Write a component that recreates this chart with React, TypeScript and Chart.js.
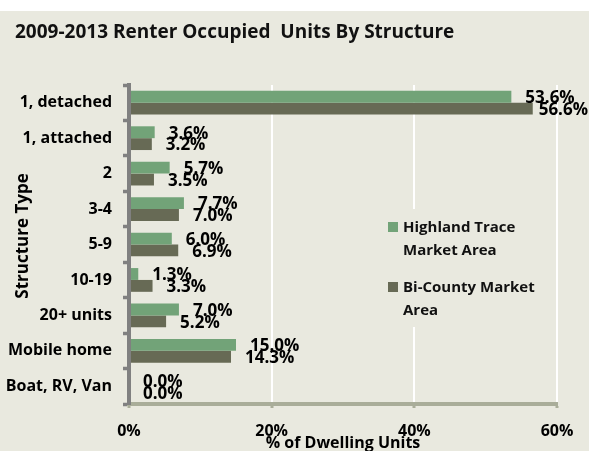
import React, { useEffect, useRef } from 'react';
import { Chart, registerables } from 'chart.js';

Chart.register(...registerables);

const chartTitle = '2009-2013 Renter Occupied  Units By Structure';
const categories = ['1, detached', '1, attached', '2', '3-4', '5-9', '10-19', '20+ units', 'Mobile home', 'Boat, RV, Van'];
const highlandTrace = [53.6, 3.6, 5.7, 7.7, 6.0, 1.3, 7.0, 15.0, 0.0];
const biCounty = [56.6, 3.2, 3.5, 7.0, 6.9, 3.3, 5.2, 14.3, 0.0];
const seriesLabels = [['Highland Trace', 'Market Area'], ['Bi-County Market', 'Area']];
const xTickValues = [0, 20, 40, 60];
const yAxisTitle = 'Structure Type';
const xAxisTitle = '% of Dwelling Units';

const BG = '#E9E9DF';
const GREEN = '#72A378';
const GRAY = '#676A55';
const FONT = '"Open Sans", "Noto Sans", sans-serif';

const decorPlugin = {
  id: 'decor',
  beforeDraw(chart: any) {
    const { ctx, width, height } = chart;
    ctx.save();
    ctx.fillStyle = '#ffffff';
    ctx.fillRect(0, 0, width, height);
    ctx.fillStyle = BG;
    ctx.fillRect(0, 11, width, height - 11);
    ctx.restore();
  },
  afterDatasetsDraw(chart: any) {
    const { ctx } = chart;
    ctx.save();
    ctx.font = `700 17px ${FONT}`;
    ctx.fillStyle = '#000';
    ctx.textBaseline = 'middle';
    ctx.textAlign = 'left';
    chart.data.datasets.forEach((ds: any, di: number) => {
      const meta = chart.getDatasetMeta(di);
      meta.data.forEach((el: any, i: number) => {
        const txt = Number(ds.data[i]).toFixed(1) + '%';
        const w = ctx.measureText(txt).width;
        let x = el.x + 14;
        if (x + w > chart.width - 1) x = chart.width - 1 - w;
        ctx.fillText(txt, x, el.y + 1.5);
      });
    });
    ctx.restore();
  },
  afterDraw(chart: any) {
    const { ctx } = chart;
    ctx.save();
    // title
    ctx.font = `700 19px ${FONT}`;
    ctx.fillStyle = '#111';
    ctx.textBaseline = 'alphabetic';
    ctx.textAlign = 'left';
    ctx.fillText(chartTitle, 15, 38);
    // y axis title
    ctx.save();
    ctx.translate(23.5, 236);
    ctx.rotate(-Math.PI / 2);
    ctx.font = `700 17px ${FONT}`;
    ctx.textAlign = 'center';
    ctx.textBaseline = 'middle';
    ctx.fillStyle = '#000';
    ctx.fillText(yAxisTitle, 0, 0);
    ctx.restore();
    // legend
    ctx.fillStyle = BG;
    ctx.fillRect(378, 209, 172, 118);
    const colors = [GREEN, GRAY];
    const tops = [227, 287];
    ctx.font = `700 15px ${FONT}`;
    ctx.textAlign = 'left';
    ctx.textBaseline = 'middle';
    seriesLabels.forEach((lines, i) => {
      ctx.fillStyle = colors[i];
      ctx.fillRect(388, tops[i] - 5, 10, 10);
      ctx.fillStyle = '#111';
      lines.forEach((ln, j) => ctx.fillText(ln, 403, tops[i] + 1 + j * 23));
    });
    ctx.restore();
  },
};

export default function App() {
  const ref = useRef<HTMLCanvasElement | null>(null);
  useEffect(() => {
    const canvas = ref.current;
    if (!canvas) return;
    const chart = new Chart(canvas, {
      type: 'bar',
      data: {
        labels: categories,
        datasets: [
          { label: seriesLabels[0].join(' '), data: highlandTrace, backgroundColor: GREEN, barPercentage: 1, categoryPercentage: 0.67 },
          { label: seriesLabels[1].join(' '), data: biCounty, backgroundColor: GRAY, barPercentage: 1, categoryPercentage: 0.67 },
        ],
      },
      options: {
        indexAxis: 'y',
        responsive: false,
        animation: false,
        layout: { padding: { top: 85, right: 32, left: 0, bottom: 0 } },
        plugins: { legend: { display: false }, title: { display: false }, tooltip: { enabled: false } },
        scales: {
          x: {
            min: 0,
            max: 60,
            afterBuildTicks: (s: any) => { s.ticks = xTickValues.map((v) => ({ value: v })); },
            afterFit: (s: any) => { s.height = 47; },
            grid: { color: '#FFFFFF', lineWidth: 2, drawTicks: true, tickLength: 4, tickColor: '#A9AD99', tickWidth: 3 },
            border: { display: true, color: '#A9AD99', width: 4, z: 1 },
            ticks: { color: '#000', padding: 14, font: { family: FONT, size: 16, weight: 'bold' }, callback: (v: any) => v + '%' },
            title: { display: true, text: xAxisTitle, color: '#000', font: { family: FONT, size: 16, weight: 'bold' }, padding: { top: 0, bottom: -2 } },
          },
          y: {
            afterFit: (s: any) => { s.width = 129; },
            grid: { drawOnChartArea: false, drawTicks: true, tickLength: 6, tickColor: '#808080', tickWidth: 3.5, color: '#808080' },
            border: { display: true, color: '#808080', width: 4, z: 1 },
            ticks: { color: '#000', padding: 11, font: { family: FONT, size: 16, weight: 'bold' } },
            title: { display: false },
          },
        },
      } as any,
      plugins: [decorPlugin],
    });
    return () => chart.destroy();
  }, []);
  return (
    <div style={{ position: 'absolute', left: 0, top: 0, width: 589, height: 451 }}>
      <canvas ref={ref} width={589} height={451} style={{ display: 'block', width: 589, height: 451 }} />
    </div>
  );
}
